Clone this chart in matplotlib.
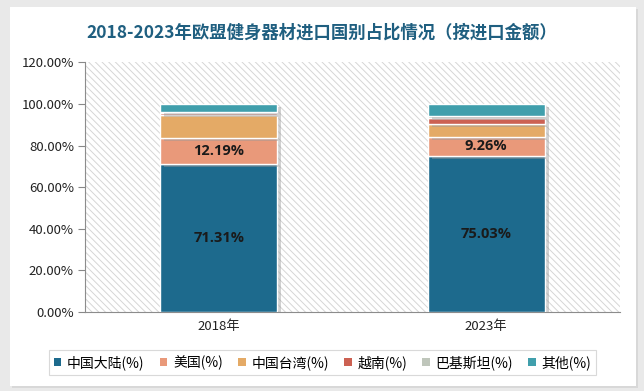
import matplotlib
matplotlib.use("Agg")
import matplotlib.pyplot as plt
from matplotlib.patches import Rectangle
import matplotlib.patheffects as pe
from matplotlib.ticker import FuncFormatter

plt.rcParams['font.family'] = ['Noto Sans CJK SC', 'DejaVu Sans']
plt.rcParams['hatch.color'] = '#d6d6d6'
plt.rcParams['hatch.linewidth'] = 0.7

categories = ['2018年', '2023年']
series_names = ['中国大陆(%)', '美国(%)', '中国台湾(%)', '越南(%)', '巴基斯坦(%)', '其他(%)']
mainland = [71.31, 75.03]
usa = [12.19, 9.26]
taiwan = [11.40, 6.20]
vietnam = [0.60, 3.00]
pakistan = [0.70, 0.80]
others = [3.80, 5.71]
series_values = [mainland, usa, taiwan, vietnam, pakistan, others]
colors = ['#1d6a8d', '#e9997a', '#e4aa66', '#cc6152', '#bfc6bb', '#409fac']
labeled = {0, 1}
yticks = [0, 20, 40, 60, 80, 100, 120]

fig = plt.figure(figsize=(6.44, 3.91), dpi=100)
fig.patch.set_facecolor('#e9e9e9')
# white card
fig.add_artist(Rectangle((12/644, 1-388/391), 626/644, 379/391, transform=fig.transFigure,
                         facecolor='#d8d8d8', edgecolor='none', zorder=0))
fig.add_artist(Rectangle((10/644, 1-386/391), 626/644, 379/391, transform=fig.transFigure,
                         facecolor='white', edgecolor='none', zorder=0))

ax = fig.add_axes([85/644, 1-312/391, 535/644, 249.5/391])
ax.set_facecolor('none')
ax.add_patch(Rectangle((0, 0), 1, 1, transform=ax.transAxes, facecolor='white',
                       hatch='\\\\\\\\\\', edgecolor='#d6d6d6', linewidth=0, zorder=0))

x = list(range(len(categories)))
bottoms = [0.0] * len(categories)
shadow = [pe.SimplePatchShadow(offset=(3, -2), shadow_rgbFace='#9a9a9a', alpha=0.45), pe.Normal()]
for i, (name, vals, c) in enumerate(zip(series_names, series_values, colors)):
    bars = ax.bar(x, vals, width=0.437, bottom=bottoms, color=c, edgecolor='white',
                  linewidth=1.0, label=name, zorder=3)
    for b in bars:
        b.set_path_effects(shadow)
    if i in labeled:
        for xi, v, b0 in zip(x, vals, bottoms):
            ax.text(xi, b0 + v / 2, f'{v:.2f}%', ha='center', va='center',
                    fontsize=10.5, fontweight='bold', color='#1a1a1a',
                    family=['Open Sans', 'DejaVu Sans'], zorder=5)
    bottoms = [b0 + v for b0, v in zip(bottoms, vals)]

ax.set_xlim(-0.5, 1.5)
ax.set_ylim(0, 120)
ax.set_yticks(yticks)
ax.yaxis.set_major_formatter(FuncFormatter(lambda v, p: f'{v:.2f}%'))
ax.set_xticks(x)
ax.set_xticklabels(categories, fontsize=9.5, color='#222222')
ax.tick_params(axis='y', labelsize=9.5, colors='#222222', length=5, color='#888888', pad=3)
ax.tick_params(axis='x', length=0, pad=6)
for s in ['top', 'right']:
    ax.spines[s].set_visible(False)
for s in ['left', 'bottom']:
    ax.spines[s].set_color('#8c8c8c')
    ax.spines[s].set_linewidth(0.8)

fig.text(0.5, 1-33/391, '2018-2023年欧盟健身器材进口国别占比情况（按进口金额）',
         ha='center', va='center', fontsize=12.5, fontweight='bold', color='#1f5f80')

handles, labels = ax.get_legend_handles_labels()
leg = fig.legend(handles, labels, loc='center', bbox_to_anchor=(322.5/644, 1-362.5/391),
                 ncol=6, fontsize=10, frameon=True, fancybox=False, handlelength=0.55,
                 handleheight=0.55, handletextpad=0.4, columnspacing=1.1, borderpad=0.35)
leg.get_frame().set_edgecolor('#d0d0d0')
leg.get_frame().set_linewidth(0.8)
for h in leg.legend_handles:
    h.set_path_effects([])
    h.set_edgecolor('none')

fig.savefig('out.png', dpi=100, facecolor=fig.get_facecolor())
